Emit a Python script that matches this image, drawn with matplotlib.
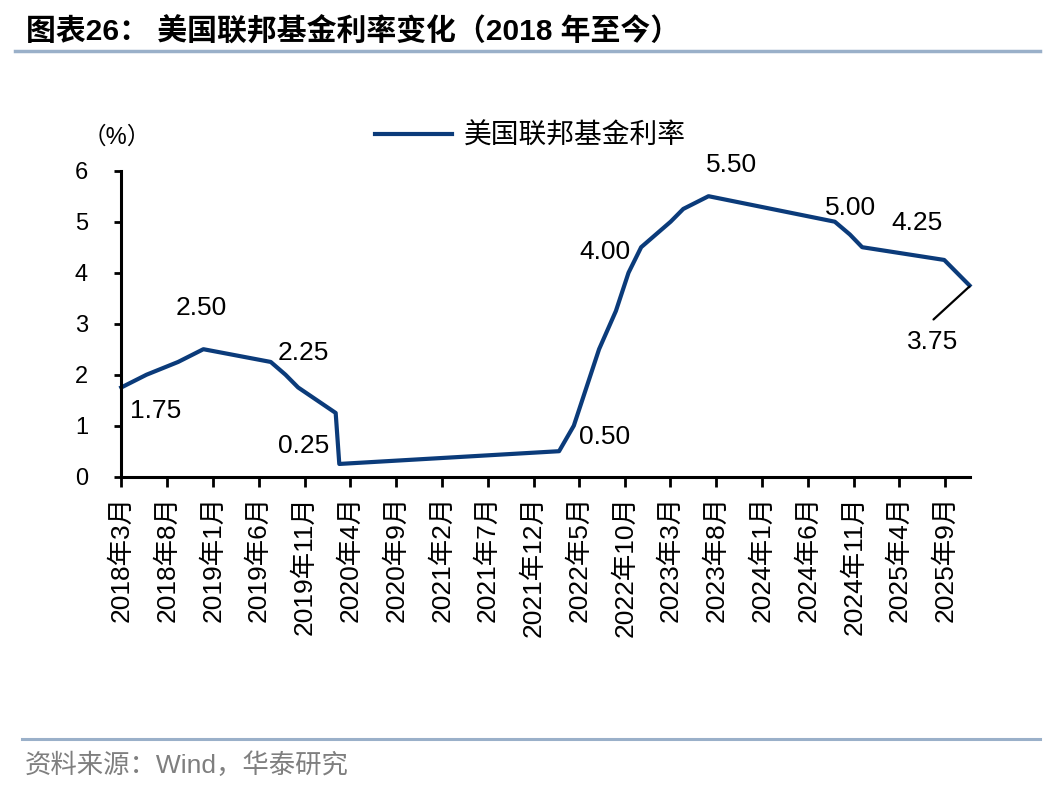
import matplotlib
matplotlib.use('Agg')
import matplotlib.pyplot as plt
import matplotlib.dates as mdates
from matplotlib.ticker import FuncFormatter
import pandas as pd

plt.rcParams['font.family'] = ['Liberation Sans', 'Noto Sans CJK SC', 'DejaVu Sans']

# 联邦基金目标利率上限（调整日期）
dates = ['2018-03-22', '2018-06-14', '2018-09-27', '2018-12-20',
         '2019-08-01', '2019-09-19', '2019-10-31', '2020-03-04', '2020-03-16',
         '2022-03-17', '2022-05-05', '2022-06-16', '2022-07-28', '2022-09-22',
         '2022-11-03', '2022-12-15', '2023-02-02', '2023-03-23', '2023-05-04',
         '2023-07-27', '2024-09-19', '2024-11-08', '2024-12-19',
         '2025-09-18', '2025-10-30', '2025-12-11']
rates = [1.75, 2.00, 2.25, 2.50,
         2.25, 2.00, 1.75, 1.25, 0.25,
         0.50, 1.00, 1.75, 2.50, 3.25,
         4.00, 4.50, 4.75, 5.00, 5.25,
         5.50, 5.00, 4.75, 4.50,
         4.25, 4.00, 3.75]

# 数据标签：日期、偏移(像素)
label_dates = ['2018-03-22', '2018-12-20', '2019-08-01', '2020-03-16', '2022-03-17',
               '2022-11-03', '2023-07-27', '2024-09-19', '2025-09-18', '2025-12-11']
label_offsets = [(34, -24), (-2, 41), (33, 9), (-36, 18), (45, 14),
                 (-24, 21), (23, 31), (16, 14), (-27, 37), (-37, -57)]

x = pd.to_datetime(dates)
line_color = '#0B3B7A'

fig = plt.figure(figsize=(10.48, 7.92), dpi=100)
ax = fig.add_axes([121.3 / 1048, 1 - 476.7 / 792, (969.5 - 121.3) / 1048, (476.7 - 170.7) / 792])

ax.plot(x, rates, color=line_color, linewidth=3, label='美国联邦基金利率', clip_on=False)

ax.set_xlim(x[0], x[-1])
ax.set_ylim(0, 6)
ax.set_yticks(range(0, 7))

ticks = pd.date_range(start=x[0], end=x[-1], freq=pd.DateOffset(months=5))
ax.set_xticks(mdates.date2num(ticks))
ax.xaxis.set_major_formatter(FuncFormatter(
    lambda v, pos: '{}年{}月'.format(mdates.num2date(v).year, mdates.num2date(v).month)))

for s in ['top', 'right']:
    ax.spines[s].set_visible(False)
for s in ['left', 'bottom']:
    ax.spines[s].set_linewidth(2.2)
ax.tick_params(axis='y', direction='out', length=5, width=2, labelsize=17, pad=19)
ax.tick_params(axis='x', direction='out', length=7, width=2, labelsize=19, pad=7)
for lab in ax.get_xticklabels():
    lab.set_rotation(90)
    lab.set_va('top')
    lab.set_ha('center')

# 数据标签
for d, (dx, dy) in zip(label_dates, label_offsets):
    xd = pd.Timestamp(d)
    v = rates[dates.index(d)]
    ax.annotate('{:.2f}'.format(v), xy=(xd, v), xytext=(dx * 0.72, dy * 0.72),
                textcoords='offset points', ha='center', va='center', fontsize=19,
                annotation_clip=False)
    if d == '2025-12-11':
        ax.annotate('', xy=(xd, v - 0.02), xytext=(-36 * 0.72, -33 * 0.72),
                    textcoords='offset points',
                    arrowprops=dict(arrowstyle='-', color='black', lw=1.6, shrinkA=0, shrinkB=0),
                    annotation_clip=False)

fig.legend(loc='center', bbox_to_anchor=(530 / 1048, 1 - 137 / 792), frameon=False,
           fontsize=20, handlelength=2.8, handletextpad=0.4)

fig.text(83 / 1048, 1 - 137 / 792, '（%）', fontsize=17, ha='left', va='center')

# 标题与来源
fig.text(26 / 1048, 1 - 32 / 792, '图表26： 美国联邦基金利率变化（2018 年至今）',
         fontsize=21.5, fontweight='bold', ha='left', va='center')
fig.add_artist(plt.Line2D([15 / 1048, 1040 / 1048], [1 - 51 / 792, 1 - 51 / 792],
                          color='#9AB0C9', linewidth=2.5))
fig.add_artist(plt.Line2D([22 / 1048, 1040 / 1048], [1 - 739 / 792, 1 - 739 / 792],
                          color='#9AB0C9', linewidth=2.2))
fig.text(25 / 1048, 1 - 765 / 792, '资料来源：Wind，华泰研究', fontsize=19,
         color='#7F7F7F', ha='left', va='center')

fig.savefig('out.png', dpi=100)
